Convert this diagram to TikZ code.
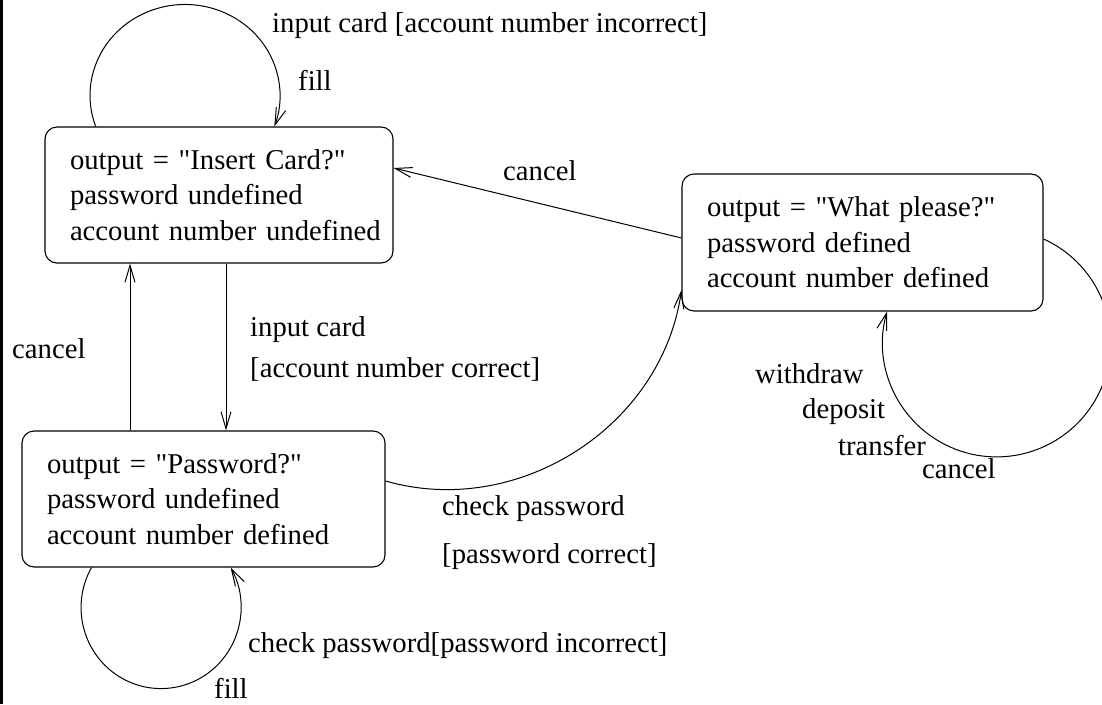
\documentclass[tikz,border=0pt]{standalone}
\usepackage{fontspec}
\setmainfont{Liberation Serif}[Ligatures=TeXOff]
\usetikzlibrary{arrows.meta}
\begin{document}
\begin{tikzpicture}[x=1pt,y=1pt,
  every node/.style={font=\fontsize{28.7}{35.5}\selectfont, inner sep=0pt},
  stbox/.style={draw, line width=1.1pt, rounded corners=12pt, align=left, inner xsep=25pt, inner ysep=0pt, minimum height=136pt},
  lbl/.style={anchor=base west},
  conn/.style={line width=1pt},
  arr/.style={conn, -{Straight Barb[length=17pt,width=10pt,line width=1pt]}}]
\path[use as bounding box] (0,0) rectangle (1102,-704);
\fill (0,0) rectangle (3,-704);

\node[stbox, text width=298pt] (A) at (219,-195) {\mbox{output = "Insert Card?"}\\ \mbox{password undefined}\\ \mbox{account number undefined}};
\node[stbox, text width=313pt] (B) at (203.5,-499) {output = "Password?"\\ password undefined\\ account number defined};
\node[stbox, text width=311pt, minimum height=137pt] (C) at (862.5,-242.5) {output = "What please?"\\ password defined\\ account number defined};

\draw[arr] ([xshift=7pt]A.south) -- ([xshift=22.5pt]B.north);
\draw[arr] ([xshift=-73.5pt]B.north) -- ([xshift=-89pt]A.south);
\draw[arr] ([yshift=4.5pt]C.west) -- ([yshift=27pt]A.east);
\draw[arr] ([yshift=18pt]B.east) to[out=-16, in=262] ([yshift=-47.5pt]C.west);

\draw[arr] ([xshift=-123.3pt]A.north) arc[start angle=199.9, end angle=-19.9, x radius=95pt, y radius=91pt];
\draw[arr] ([xshift=-112pt]B.south) arc[start angle=150.4, end angle=389.6, x radius=80pt, y radius=81pt];
\draw[arr] ([yshift=3.5pt]C.east) arc[start angle=65.7, end angle=-196, radius=114pt];

\node[lbl] (l1) at (272,-32) {input card [account number incorrect]};
\node[lbl] (l2) at (298,-90) {fill};
\node[lbl] (l3) at (503,-180) {cancel};
\node[lbl] (l4) at (250,-336) {input card};
\node[lbl] (l5) at (250,-377) {[account number correct]};
\node[lbl] (l6) at (12,-358) {cancel};
\node[lbl] (l7) at (442,-515) {check password};
\node[lbl] (l8) at (442,-563) {[password correct]};
\node[lbl] (l9) at (248,-652) {check password[password incorrect]};
\node[lbl] (l10) at (214,-698) {fill};
\node[lbl] (l11) at (755,-383) {withdraw};
\node[lbl] (l12) at (802,-418) {deposit};
\node[lbl] (l13) at (838,-455) {transfer};
\node[lbl] (l14) at (922,-478) {cancel};
\end{tikzpicture}
\end{document}
